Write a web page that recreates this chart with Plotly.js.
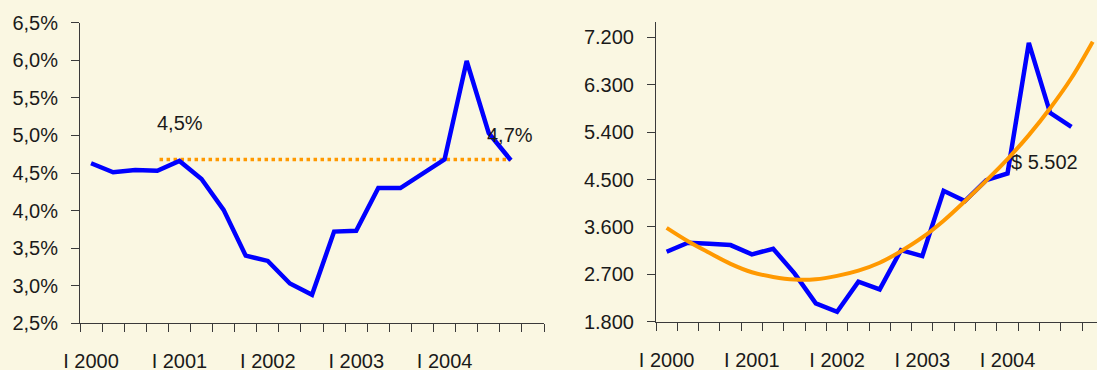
<!DOCTYPE html>
<html>
<head>
<meta charset="utf-8">
<script src="https://cdn.plot.ly/plotly-3.0.1.min.js"></script>
<style>
  html, body { margin: 0; padding: 0; background: #FAF7E2; }
  #chart { width: 1097px; height: 370px; }
</style>
</head>
<body>
<div id="chart"></div>
<script>
// Quarters (categories), I 2000 .. I 2005
const quarters = [
  'I 2000','II 2000','III 2000','IV 2000',
  'I 2001','II 2001','III 2001','IV 2001',
  'I 2002','II 2002','III 2002','IV 2002',
  'I 2003','II 2003','III 2003','IV 2003',
  'I 2004','II 2004','III 2004','IV 2004',
  'I 2005'
];
const tickLabels = ['I 2000','I 2001','I 2002','I 2003','I 2004'];

// Left chart: rate (%)
const rateValues = [4.63, 4.51, 4.54, 4.53, 4.66, 4.42, 4.01, 3.40, 3.33, 3.03,
                    2.88, 3.72, 3.73, 4.30, 4.30, 4.49, 4.68, 5.99, 5.03, 4.67];
const refLevel = 4.68;
const refStart = 3.1;   // category position where dotted reference starts
const refEnd = 19;      // category position where it ends
const rateLabels = ['4,5%', '4,7%'];

// Right chart: price series and its trend
const priceValues = [3129, 3300, 3280, 3256, 3079, 3186, 2718, 2149, 1989, 2559,
                     2414, 3161, 3047, 4287, 4091, 4490, 4617, 7097, 5768, 5502];
const trendValues = [3584, 3330, 3110, 2900, 2740, 2650, 2600, 2605, 2670, 2770,
                     2920, 3140, 3400, 3720, 4090, 4480, 4890, 5345, 5855, 6430, 7120];
const priceLabel = '$ 5.502';
const priceTicks = [1800, 2700, 3600, 4500, 5400, 6300, 7200];
const priceTickText = ['1.800','2.700','3.600','4.500','5.400','6.300','7.200'];
const rateTicks = [2.5, 3.0, 3.5, 4.0, 4.5, 5.0, 5.5, 6.0, 6.5];

const idx = arr => arr.map((_, i) => i);
const labelPos = tickLabels.map(t => quarters.indexOf(t));
const boundaries = quarters.map((_, i) => i - 0.5).concat([quarters.length - 0.5]);

const BG = '#FAF7E2';
const AX = '#3a3a3a';
const FONT = {family: 'Liberation Sans, Arial, sans-serif', size: 20, color: '#1a1a1a'};

const traces = [
  {x: [refStart, refEnd], y: [refLevel, refLevel], xaxis: 'x', yaxis: 'y', mode: 'lines',
   line: {color: '#FF9900', width: 3.5, dash: 'dot'}, hoverinfo: 'skip'},
  {x: idx(rateValues), y: rateValues, xaxis: 'x', yaxis: 'y', mode: 'lines',
   line: {color: '#0000FF', width: 4.5}},
  {x: idx(priceValues), y: priceValues, xaxis: 'x2', yaxis: 'y2', mode: 'lines',
   line: {color: '#0000FF', width: 4.5}},
  {x: idx(trendValues), y: trendValues, xaxis: 'x2', yaxis: 'y2', mode: 'lines',
   line: {color: '#FF9900', width: 4, shape: 'spline'}}
];

function xAxis(domain, range, anchor) {
  return {
    domain: domain, range: range, anchor: anchor, showgrid: false, zeroline: false,
    showline: true, linecolor: AX, linewidth: 1,
    tickmode: 'array', tickvals: labelPos, ticktext: tickLabels,
    ticks: '', ticklabelstandoff: 20, tickfont: FONT,
    minor: {tickmode: 'array', tickvals: boundaries, ticks: 'outside',
            ticklen: 8, tickcolor: AX, tickwidth: 1, showgrid: false}
  };
}
function yAxis(domain, range, vals, text, anchor) {
  return {
    domain: domain, range: range, anchor: anchor, showgrid: false, zeroline: false,
    showline: true, linecolor: AX, linewidth: 1,
    tickmode: 'array', tickvals: vals, ticktext: text,
    ticks: 'outside', ticklen: 8, tickcolor: AX, tickwidth: 1,
    ticklabelstandoff: 9, tickfont: FONT
  };
}

const layout = {
  width: 1097, height: 370,
  margin: {l: 0, r: 0, t: 0, b: 0},
  paper_bgcolor: BG, plot_bgcolor: BG,
  showlegend: false,
  font: FONT,
  xaxis: xAxis([80/1097, 544/1097], [-0.5, 20.5], 'y'),
  yaxis: yAxis([(370-323.3)/370, (370-22.7)/370], [2.5, 6.5], rateTicks,
               rateTicks.map(v => v.toFixed(1).replace('.', ',') + '%'), 'x'),
  xaxis2: xAxis([656/1097, 1], [-0.5, 20.2], 'y2'),
  yaxis2: yAxis([(370-321.7)/370, (370-21.7)/370], [1800, 7500], priceTicks, priceTickText, 'x2'),
  annotations: [
    {xref: 'x', yref: 'y', x: 4.02, y: 5.17, text: rateLabels[0], showarrow: false,
     font: FONT, xanchor: 'center', yanchor: 'middle'},
    {xref: 'x', yref: 'y', x: 18.96, y: 5.0, text: rateLabels[1], showarrow: false,
     font: FONT, xanchor: 'center', yanchor: 'middle'},
    {xref: 'x2', yref: 'y2', x: 17.72, y: 4840, text: priceLabel, showarrow: false,
     font: FONT, xanchor: 'center', yanchor: 'middle'}
  ]
};

Plotly.newPlot('chart', traces, layout, {staticPlot: true, displayModeBar: false});
</script>
</body>
</html>
